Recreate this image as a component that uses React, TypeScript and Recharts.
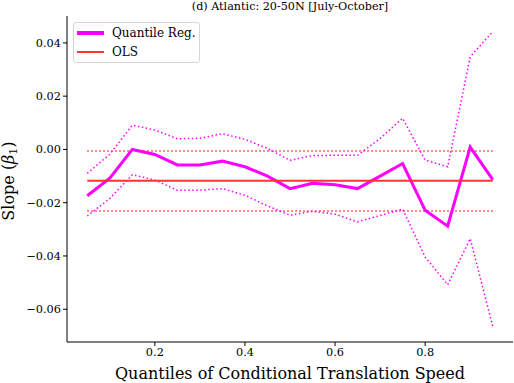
import React from "react";
import {
  LineChart,
  Line,
  XAxis,
  YAxis,
  Legend,
} from "recharts";

const quantiles = [0.05, 0.1, 0.15, 0.2, 0.25, 0.3, 0.35, 0.4, 0.45, 0.5, 0.55, 0.6, 0.65, 0.7, 0.75, 0.8, 0.85, 0.9, 0.95];
const qrSlope = [-0.0174, -0.0108, 0.0, -0.0019, -0.0058, -0.0058, -0.0044, -0.0065, -0.01, -0.0147, -0.0127, -0.0133, -0.0147, -0.01, -0.0053, -0.0228, -0.0288, 0.0009, -0.0113];
const qrUpper = [-0.009, -0.0018, 0.0091, 0.0073, 0.004, 0.0042, 0.0059, 0.0038, 0.0004, -0.0041, -0.0023, -0.0022, -0.0022, 0.0041, 0.0117, -0.004, -0.0065, 0.0348, 0.0442];
const qrLower = [-0.025, -0.0184, -0.0095, -0.0115, -0.0153, -0.0153, -0.0147, -0.0172, -0.0212, -0.0247, -0.0232, -0.0243, -0.0272, -0.0248, -0.0224, -0.0404, -0.0508, -0.0335, -0.0664];
const olsSlope = -0.0118;
const olsUpper = -0.0006;
const olsLower = -0.0231;

const xTicks = [0.2, 0.4, 0.6, 0.8];
const yTicks = [-0.06, -0.04, -0.02, 0.0, 0.02, 0.04];
const legendItems = [
  { label: "Quantile Reg.", color: "#ff00ff", width: 4 },
  { label: "OLS", color: "#ff3333", width: 2 },
];

const data = quantiles.map((q, i) => ({
  q,
  qr: qrSlope[i],
  hi: qrUpper[i],
  lo: qrLower[i],
  ols: olsSlope,
  olsHi: olsUpper,
  olsLo: olsLower,
}));

const FONT = "DejaVu Serif";
const MAGENTA = "#ff00ff";
const RED = "#ff3333";

const fmtY = (v: number) => {
  const s = Math.abs(v).toFixed(2);
  return v < -1e-9 ? "\u2212" + s : s;
};

const LegendBox = () => (
  <div
    style={{
      width: 127,
      height: 41,
      boxSizing: "border-box",
      border: "1px solid #d6d6d6",
      borderRadius: 3,
      background: "rgba(255,255,255,0.8)",
      fontFamily: FONT,
      fontSize: 12,
      position: "relative",
    }}
  >
    {legendItems.map((it, i) => (
      <div
        key={it.label}
        style={{ position: "absolute", left: 3, top: 2 + i * 18.5, height: 16, display: "flex", alignItems: "center" }}
      >
        <svg width={28} height={16} style={{ display: "block" }}>
          <line x1={0} x2={27} y1={8} y2={8} stroke={it.color} strokeWidth={it.width} />
        </svg>
        <span style={{ marginLeft: 7, color: "#000", whiteSpace: "nowrap" }}>{it.label}</span>
      </div>
    ))}
  </div>
);

const tickStyle = { fill: "#000", fontFamily: FONT, fontSize: 11.3, style: { fontFamily: FONT } };

export default function App() {
  return (
    <div style={{ position: "absolute", left: 0, top: 0, width: 514, height: 383, background: "#fff", fontFamily: FONT }}>
      <LineChart
        width={514}
        height={383}
        data={data}
        margin={{ top: 16, right: 1, left: 0, bottom: 0 }}
        style={{ fontFamily: FONT }}
      >
        <text x={290} y={10} textAnchor="middle" style={{ fontFamily: FONT, fontSize: 11.2 }} fill="#000">
          (d) Atlantic: 20-50N [July-October]
        </text>
        <text x={290} y={379} textAnchor="middle" style={{ fontFamily: FONT, fontSize: 16 }} fill="#000">
          Quantiles of Conditional Translation Speed
        </text>
        <text
          transform="translate(14,181) rotate(-90)"
          textAnchor="middle"
          style={{ fontFamily: FONT, fontSize: 16 }}
          fill="#000"
        >
          Slope (<tspan fontStyle="italic">β</tspan>
          <tspan fontSize={11} dy={3}>1</tspan>
          <tspan dy={-3}>)</tspan>
        </text>
        <XAxis
          dataKey="q"
          type="number"
          domain={[0.005, 0.995]}
          ticks={xTicks}
          tickFormatter={(v: number) => v.toFixed(1)}
          height={41}
          allowDataOverflow
          axisLine={{ stroke: "#000", strokeWidth: 1 }}
          tickLine={{ stroke: "#000" }}
          tickSize={4}
          tickMargin={2}
          tick={tickStyle}
        />
        <XAxis
          xAxisId="top"
          dataKey="q"
          type="number"
          domain={[0.005, 0.995]}
          orientation="top"
          height={0}
          tick={false}
          tickLine={false}
          axisLine={{ stroke: "#000", strokeWidth: 1 }}
        />
        <YAxis
          type="number"
          domain={[-0.0723, 0.0501]}
          ticks={yTicks}
          tickFormatter={fmtY}
          width={67}
          allowDataOverflow
          axisLine={{ stroke: "#000", strokeWidth: 1 }}
          tickLine={{ stroke: "#000" }}
          tickSize={4}
          tickMargin={2}
          tick={tickStyle}
        />
        <YAxis
          yAxisId="right"
          type="number"
          domain={[-0.0723, 0.0501]}
          orientation="right"
          width={0}
          tick={false}
          tickLine={false}
          axisLine={{ stroke: "#000", strokeWidth: 1 }}
        />
        <Legend
          layout="vertical"
          align="center"
          verticalAlign="middle"
          wrapperStyle={{ position: "absolute", left: 73, top: 22, width: 127, height: 41 }}
          content={() => <LegendBox />}
        />
        <Line dataKey="olsHi" stroke={RED} strokeWidth={1.5} strokeDasharray="1.5 2.5" dot={false} isAnimationActive={false} legendType="none" />
        <Line dataKey="olsLo" stroke={RED} strokeWidth={1.5} strokeDasharray="1.5 2.5" dot={false} isAnimationActive={false} legendType="none" />
        <Line dataKey="hi" stroke={MAGENTA} strokeWidth={1.5} strokeDasharray="1.5 2.5" dot={false} isAnimationActive={false} legendType="none" />
        <Line dataKey="lo" stroke={MAGENTA} strokeWidth={1.5} strokeDasharray="1.5 2.5" dot={false} isAnimationActive={false} legendType="none" />
        <Line dataKey="qr" name="Quantile Reg." stroke={MAGENTA} strokeWidth={3} dot={false} isAnimationActive={false} />
        <Line dataKey="ols" name="OLS" stroke={RED} strokeWidth={2} dot={false} isAnimationActive={false} />
      </LineChart>
    </div>
  );
}
